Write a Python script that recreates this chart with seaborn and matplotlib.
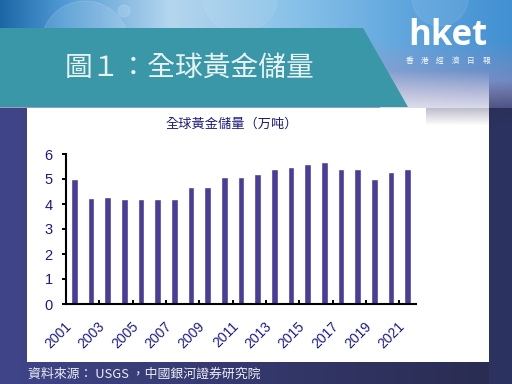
import numpy as np
import pandas as pd
import seaborn as sns
import matplotlib
matplotlib.use('Agg')
from matplotlib import pyplot as plt
from matplotlib.colors import to_rgb
from matplotlib.patches import Polygon, Circle

# data
years = [str(y) for y in range(2001, 2022)]
reserves = [5.0, 4.23, 4.27, 4.2, 4.2, 4.2, 4.2, 4.67, 4.67, 5.07, 5.07,
            5.2, 5.4, 5.48, 5.6, 5.68, 5.4, 5.4, 5.0, 5.28, 5.4]
label_years = years[::2]
y_ticks = [0, 1, 2, 3, 4, 5, 6]

main_title = "圖１：全球黃金儲量"
chart_title = "全球黃金儲量（万吨）"
source_text = "資料來源： USGS ，中國銀河證券研究院"
logo_text = "hket"
logo_sub = ["香", "港", "經", "濟", "日", "報"]

BAR = "#4a3d9a"
NAVY_TXT = "#1a1a8c"

sns.set_theme(style="white")
plt.rcParams['font.family'] = ['Liberation Sans', 'Noto Sans CJK TC', 'DejaVu Sans']
CJK = ['Noto Sans CJK TC', 'DejaVu Sans']


def ramp(pos, cols, v):
    cols = np.array([to_rgb(c) for c in cols])
    return np.stack([np.interp(v, pos, cols[:, k]) for k in range(3)], axis=-1)


# background picture (decoration only)
H, W = 384, 512
yy, xx = np.mgrid[0:H, 0:W].astype(float)
img = ramp([0, 512], ['#3f4588', '#292b4f'], xx)
sky = ramp([0, 60, 170, 300, 420, 512],
           ['#1c66a6', '#4d98d3', '#b5d6ee', '#86c0e8', '#5aa2dc', '#4290d2'], xx)
lav = ramp([360, 512], ['#9a9cc8', '#8088bc'], xx)
t = np.clip((yy - 40) / 55, 0, 1)[..., None]
top = sky * (1 - t) + lav * t
img = np.where((yy < 108)[..., None], top, img)

# right dark strip
navy = np.array(to_rgb('#2c3260'))
t2 = np.clip((yy - 80) / 45, 0, 1)[..., None]
strip = img * (1 - t2) + navy * t2
img = np.where((xx >= 489)[..., None], strip, img)

# fade to white above the right part of the panel
t3 = np.clip((yy - 70) / 55, 0, 1)[..., None]
fade = img * (1 - t3) + 1.0 * t3
fade_mask = (xx >= 380) & (xx < 489) & (yy >= 70) & (yy < 130)
img = np.where(fade_mask[..., None], fade, img)

# white panel
panel = (xx >= 27) & (xx < 489) & (yy >= 125) & (yy < 362)
panel |= (xx >= 27) & (xx < 426) & (yy >= 108) & (yy < 362)
img[panel] = 1.0

fig = plt.figure(figsize=(5.12, 3.84), dpi=100)
bg = fig.add_axes([0, 0, 1, 1])
bg.imshow(img, extent=(0, W, H, 0), aspect='auto', interpolation='bilinear')
for cx, cy, r, a in [(85, 45, 44, 0.35), (124, 11, 6, 0.4), (240, -5, 38, 0.2), (440, -2, 28, 0.25)]:
    bg.add_patch(Circle((cx, cy), r, facecolor='white', alpha=a * 0.35,
                        edgecolor='white', linewidth=0.8))
bg.add_patch(Polygon([(0, 28), (363, 28), (408, 107), (0, 107)], closed=True,
                     facecolor='#3a97a8', edgecolor='none'))
bg.set_xlim(0, W)
bg.set_ylim(H, 0)
bg.axis('off')

# chart
ax = fig.add_axes([66 / 512, 80 / 384, 350 / 512, 150 / 384])
ax.set_facecolor('none')
df = pd.DataFrame({'year': years, 'reserve': reserves})
sns.barplot(data=df, x='year', y='reserve', color=BAR, saturation=1,
            width=0.4, ax=ax)
ax.set_xlim(-0.5, len(years) - 0.5)
ax.set_ylim(0, 6)
ax.set_xlabel('')
ax.set_ylabel('')
ax.set_yticks(y_ticks)
ax.set_yticklabels([str(v) for v in y_ticks], color=NAVY_TXT, fontsize=10.5)
ax.set_xticks(range(0, len(years), 2))
ax.set_xticklabels(label_years, rotation=45, ha='right', va='top',
                   color=NAVY_TXT, fontsize=10)
ax.set_xticks(np.arange(1.5, len(years) - 1, 2), minor=True)
ax.tick_params(axis='x', which='major', length=0, pad=11)
ax.tick_params(axis='x', which='minor', direction='in', length=3, width=1.4,
               color='black', bottom=True)
ax.tick_params(axis='y', direction='out', length=3, width=1.4, color='black',
               pad=6.5, left=True)
for side in ['top', 'right']:
    ax.spines[side].set_visible(False)
for side in ['left', 'bottom']:
    ax.spines[side].set_color('black')
    ax.spines[side].set_linewidth(1.5)
ax.grid(False)

# texts
fig.text(232 / 512, 1 - 124 / 384, chart_title, ha='center', va='center',
         fontsize=9.5, color='#1c1c80', family=CJK)
fig.text(65 / 512, 1 - 68 / 384, main_title, ha='left', va='center',
         fontsize=20, color='#e8f2f3', family=CJK, fontweight='light')
fig.text(28 / 512, 1 - 374 / 384, source_text, ha='left', va='center',
         fontsize=9.3, color='#eeeef5', family=CJK)
fig.text(448 / 512, 1 - 36 / 384, logo_text, ha='center', va='center',
         fontsize=25, color='white', fontweight='bold',
         family=['Open Sans', 'DejaVu Sans'])
for i, ch in enumerate(logo_sub):
    fig.text((409 + i * 15.4) / 512, 1 - 61 / 384, ch, ha='center', va='center',
             fontsize=5.5, color='white', family=CJK)

fig.savefig('out.png', dpi=100)
